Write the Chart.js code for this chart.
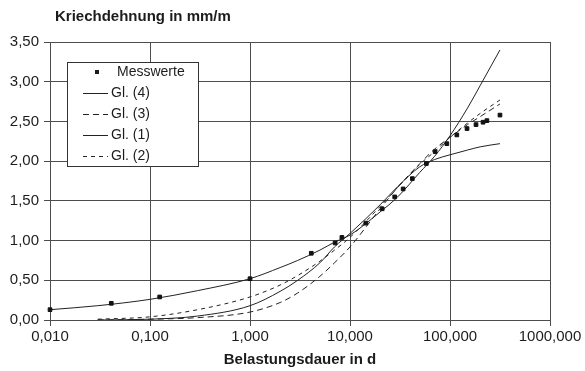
<!DOCTYPE html>
<html lang="de">
<head>
<meta charset="UTF-8">
<title>Kriechdehnung</title>
<script src="https://cdn.jsdelivr.net/npm/chart.js@4"></script>
<style>
  body { margin: 0; background: #fff; }
  #wrap { position: relative; width: 585px; height: 371px; }
</style>
</head>
<body>
<div id="wrap"><canvas id="creepChart" width="585" height="371"></canvas></div>
<script>
// Messwerte (Belastungsdauer in d / Kriechdehnung in mm/m)
const messT   = [0.01, 0.041, 0.125, 1, 4.1, 7.1, 8.3, 14.4, 21, 28, 34, 42, 58, 71, 93, 117, 148, 182, 214, 234, 316];
const messEps = [0.13, 0.21, 0.29, 0.52, 0.84, 0.97, 1.04, 1.22, 1.40, 1.55, 1.65, 1.78, 1.97, 2.12, 2.22, 2.33, 2.41, 2.46, 2.49, 2.51, 2.58];

// Ausgleichskurven
const curveT = [0.01, 0.03, 0.1, 0.3, 1, 2, 3, 5, 7, 10, 20, 30, 50, 70, 100, 150, 200, 316];
const gl4 = [0.13, 0.18, 0.26, 0.37, 0.52, 0.66, 0.75, 0.88, 0.98, 1.07, 1.36, 1.55, 1.86, 2.06, 2.32, 2.67, 2.95, 3.40];
const gl3 = [null, 0.00, 0.01, 0.03, 0.10, 0.22, 0.34, 0.55, 0.72, 0.92, 1.40, 1.67, 1.97, 2.15, 2.30, 2.46, 2.56, 2.72];
const gl1 = [null, 0.00, 0.01, 0.05, 0.18, 0.36, 0.50, 0.72, 0.92, 1.09, 1.45, 1.68, 1.93, 2.02, 2.08, 2.14, 2.18, 2.22];
const gl2 = [null, 0.01, 0.04, 0.13, 0.29, 0.44, 0.56, 0.74, 0.88, 1.04, 1.43, 1.67, 1.96, 2.12, 2.30, 2.48, 2.60, 2.77];

const xTicks = [0.01, 0.1, 1, 10, 100, 1000];
const yMax = 3.5;
const yStep = 0.5;

const FONT = '"Liberation Sans", Arial, sans-serif';
const INK = '#1c1c1c';
const GRID = '#4d4d4d';

function pts(xs, ys) {
    return xs.map((x, i) => ({ x: x, y: ys[i] })).filter(p => p.y !== null);
}

function curve(label, ys, dash) {
    return {
        type: 'line',
        label: label,
        data: pts(curveT, ys),
        borderColor: '#222',
        borderWidth: 1,
        borderDash: dash,
        pointRadius: 0,
        cubicInterpolationMode: 'monotone',
        fill: false
    };
}

// Legende im Diagramm und Achsentitel oben links
const extras = {
    id: 'extras',
    afterDraw(chart) {
        const ctx = chart.ctx;
        ctx.save();
        ctx.fillStyle = INK;
        ctx.font = 'bold 15px ' + FONT;
        ctx.textBaseline = 'middle';
        ctx.textAlign = 'left';
        ctx.fillText('Kriechdehnung in mm/m', 55, 17);

        // Legend box
        ctx.fillStyle = '#fff';
        ctx.fillRect(67.5, 62.5, 131, 104);
        ctx.strokeStyle = '#333';
        ctx.lineWidth = 1;
        ctx.strokeRect(67.5, 62.5, 131, 104);

        const rows = [72, 93, 114, 135, 156];
        ctx.font = '14px ' + FONT;
        ctx.fillStyle = INK;
        ctx.fillRect(95, rows[0] - 2, 4, 4);
        ctx.fillText('Messwerte', 117, rows[0]);

        const items = chart.data.datasets.slice(1);
        items.forEach((ds, i) => {
            const y = rows[i + 1] + 0.5;
            ctx.strokeStyle = '#222';
            ctx.setLineDash(ds.borderDash || []);
            ctx.beginPath();
            ctx.moveTo(83, y);
            ctx.lineTo(108, y);
            ctx.stroke();
            ctx.setLineDash([]);
            ctx.fillText(ds.label, 111, rows[i + 1]);
        });
        ctx.restore();
    }
};

new Chart(document.getElementById('creepChart'), {
    type: 'scatter',
    data: {
        datasets: [
            {
                label: 'Messwerte',
                data: pts(messT, messEps),
                backgroundColor: '#111',
                borderColor: '#111',
                pointStyle: 'rect',
                pointRadius: 2.6,
                clip: false
            },
            curve('Gl. (4)', gl4, []),
            curve('Gl. (3)', gl3, [6, 4]),
            curve('Gl. (1)', gl1, []),
            curve('Gl. (2)', gl2, [4, 4])
        ]
    },
    options: {
        responsive: false,
        animation: false,
        layout: { padding: { top: 42, right: 35, left: 0, bottom: 0 } },
        plugins: {
            legend: { display: false },
            tooltip: { enabled: false }
        },
        scales: {
            x: {
                type: 'logarithmic',
                min: 0.01,
                max: 1000,
                afterBuildTicks(scale) {
                    scale.ticks = xTicks.map(v => ({ value: v }));
                },
                afterFit(scale) { scale.height = 51; },
                ticks: {
                    autoSkip: false,
                    maxRotation: 0,
                    padding: 2,
                    color: INK,
                    font: { family: FONT, size: 15 },
                    callback: v => v.toFixed(3).replace('.', ',')
                },
                grid: { color: GRID, lineWidth: 1, tickLength: 6, tickColor: GRID },
                border: { color: GRID },
                title: {
                    display: true,
                    text: 'Belastungsdauer in d',
                    color: INK,
                    font: { family: FONT, size: 15, weight: 'bold' },
                    padding: { top: 0, bottom: 2 }
                }
            },
            y: {
                min: 0,
                max: yMax,
                afterFit(scale) { scale.width = 50; },
                ticks: {
                    stepSize: yStep,
                    padding: 5,
                    color: INK,
                    font: { family: FONT, size: 15 },
                    callback: v => v.toFixed(2).replace('.', ',')
                },
                grid: { color: GRID, lineWidth: 1, tickLength: 6, tickColor: GRID },
                border: { color: GRID }
            }
        }
    },
    plugins: [extras]
});
</script>
</body>
</html>
